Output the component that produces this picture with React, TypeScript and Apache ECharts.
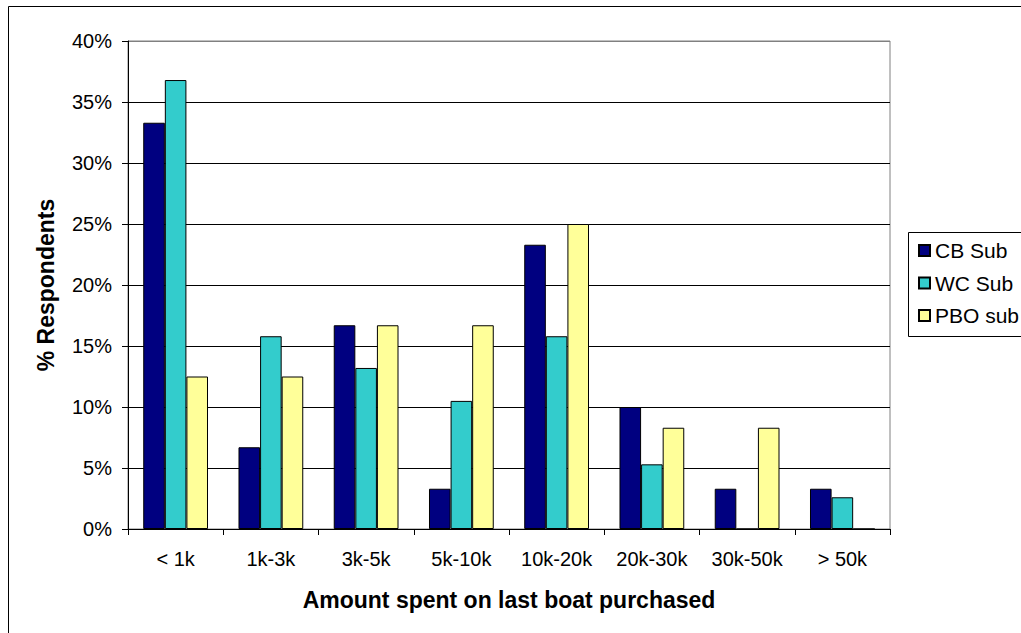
import React, { useEffect, useRef } from "react";
import * as echarts from "echarts";

// Spending brackets for the last boat purchase
const categories = ["< 1k", "1k-3k", "3k-5k", "5k-10k", "10k-20k", "20k-30k", "30k-50k", "> 50k"];

// Share of respondents (%) per group
const cbSub = [33.3, 6.7, 16.7, 3.3, 23.3, 10.0, 3.3, 3.3];
const wcSub = [36.8, 15.8, 13.2, 10.5, 15.8, 5.3, 0, 2.6];
const pboSub = [12.5, 12.5, 16.7, 16.7, 25.0, 8.3, 8.3, 0];

const seriesNames = ["CB Sub", "WC Sub", "PBO sub"];
const seriesColors = ["#000080", "#33CCCC", "#FFFF99"];

const FONT = "'Liberation Sans', Arial, sans-serif";

export default function App() {
  const ref = useRef<HTMLDivElement>(null);

  useEffect(() => {
    if (!ref.current) return;
    const chart = echarts.init(ref.current, undefined, { renderer: "svg" });
    const values = [cbSub, wcSub, pboSub];

    chart.setOption({
      animation: false,
      backgroundColor: "#ffffff",
      textStyle: { fontFamily: FONT, color: "#000" },
      graphic: [
        {
          type: "rect",
          shape: { x: 8.5, y: 6.5, width: 1200, height: 800 },
          style: { fill: "none", stroke: "#000", lineWidth: 1 },
          silent: true,
        },
        {
          type: "rect",
          shape: { x: 908.5, y: 232.5, width: 200, height: 104 },
          style: { fill: "none", stroke: "#000", lineWidth: 1 },
          silent: true,
        },
      ],
      legend: {
        orient: "vertical",
        left: 918,
        top: 240,
        itemWidth: 11,
        itemHeight: 11,
        itemGap: 11.5,
        icon: "rect",
        padding: 0,
        textStyle: { fontFamily: FONT, fontSize: 21, color: "#000" },
        data: seriesNames,
      },
      grid: {
        left: 128,
        right: 131,
        top: 41,
        bottom: 104,
        show: true,
        borderColor: "#808080",
        borderWidth: 1,
        backgroundColor: "transparent",
      },
      xAxis: {
        type: "category",
        data: categories,
        name: "Amount spent on last boat purchased",
        nameLocation: "middle",
        nameGap: 59,
        nameTextStyle: { fontFamily: FONT, fontSize: 23, fontWeight: "bold", color: "#000" },
        axisLine: { show: true, lineStyle: { color: "#000", width: 1 } },
        axisTick: { show: true, length: 6, lineStyle: { color: "#000" } },
        axisLabel: { fontFamily: FONT, fontSize: 20, color: "#000", margin: 20 },
      },
      yAxis: {
        type: "value",
        min: 0,
        max: 40,
        interval: 5,
        name: "% Respondents",
        nameLocation: "middle",
        nameGap: 71,
        nameTextStyle: { fontFamily: FONT, fontSize: 23, fontWeight: "bold", color: "#000" },
        axisLine: { show: true, lineStyle: { color: "#000", width: 1 } },
        axisTick: { show: true, length: 6, lineStyle: { color: "#000" } },
        axisLabel: {
          fontFamily: FONT,
          fontSize: 20,
          color: "#000",
          margin: 16,
          formatter: "{value}%",
        },
        splitLine: {
          show: true,
          lineStyle: {
            color: ["#000", "#000", "#000", "#000", "#000", "#000", "#000", "#000", "#808080"],
            width: 1,
          },
        },
      },
      series: seriesNames.map((name, i) => ({
        name,
        type: "bar",
        data: values[i],
        barGap: "0%",
        barCategoryGap: "32%",
        itemStyle: { color: seriesColors[i], borderColor: "#000", borderWidth: 1 },
      })),
    });

    return () => chart.dispose();
  }, []);

  return (
    <div
      style={{
        position: "fixed",
        left: 0,
        top: 0,
        width: 1021,
        height: 633,
        overflow: "hidden",
        background: "#fff",
      }}
    >
      <div ref={ref} style={{ width: 1021, height: 633 }} />
    </div>
  );
}
